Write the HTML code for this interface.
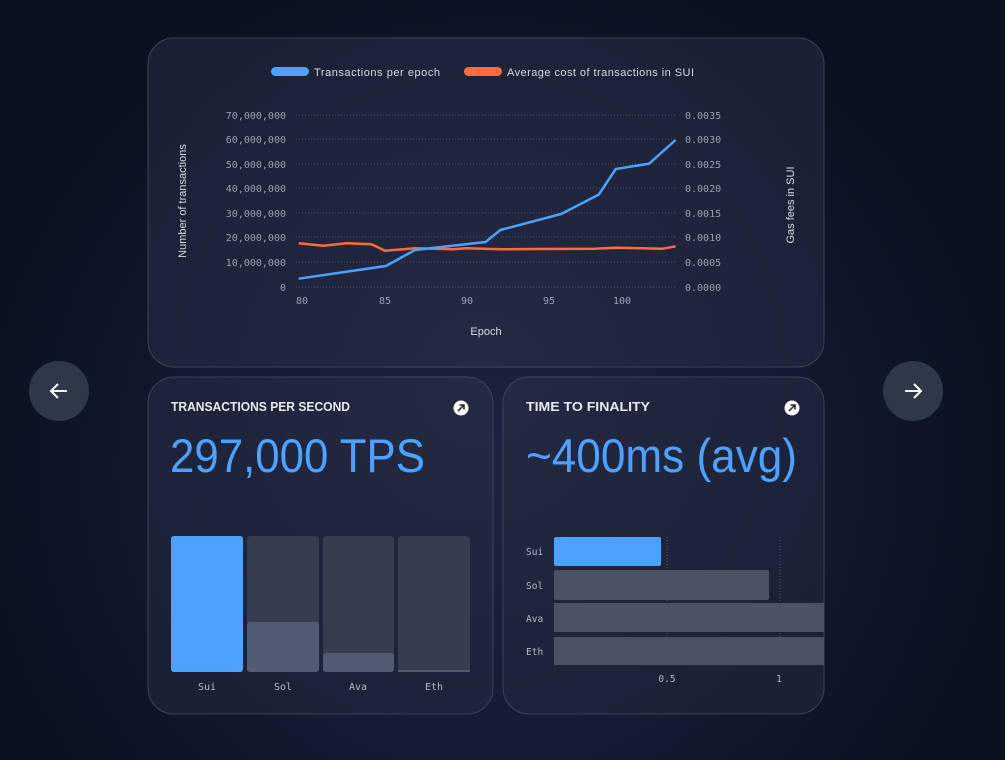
<!DOCTYPE html>
<html><head><meta charset="utf-8"><style>
html,body{margin:0;padding:0;width:1005px;height:760px;overflow:hidden;background:#0a1120;}
svg{display:block}
.m{font-family:"DejaVu Sans Mono","Liberation Mono",monospace;}
.s{font-family:"Liberation Sans",sans-serif;}
</style></head><body>
<svg width="1005" height="760" viewBox="0 0 1005 760" xmlns="http://www.w3.org/2000/svg">
<defs>
<radialGradient id="bg" cx="490" cy="470" r="520" gradientUnits="userSpaceOnUse">
<stop offset="0" stop-color="#1e2340"/><stop offset="0.55" stop-color="#141a30"/><stop offset="1" stop-color="#0a1120"/>
</radialGradient>
<radialGradient id="cd" cx="480" cy="380" r="400" gradientUnits="userSpaceOnUse">
<stop offset="0" stop-color="#252a44"/><stop offset="1" stop-color="#1b2135"/>
</radialGradient>
</defs>
<rect width="1005" height="760" fill="url(#bg)"/>
<rect x="148" y="38" width="676" height="329" rx="26" fill="url(#cd)" stroke="#3b4357" stroke-width="1"/>
<rect x="148" y="377" width="345" height="337" rx="26" fill="url(#cd)" stroke="#3b4357"/>
<rect x="503" y="377" width="321" height="337" rx="26" fill="url(#cd)" stroke="#3b4357"/>
<circle cx="59" cy="391" r="30" fill="#2e3848"/>
<path d="M67 391H51M58 384l-7 7 7 7" stroke="#fff" stroke-width="2" fill="none"/>
<circle cx="913" cy="391" r="30" fill="#2e3848"/>
<path d="M905 391h16M914 384l7 7-7 7" stroke="#fff" stroke-width="2" fill="none"/>
<rect x="271" y="67" width="38" height="9" rx="4.5" fill="#4da2ff"/>
<text x="314" y="76" class="s" font-size="11" fill="#d8dce6" textLength="126">Transactions per epoch</text>
<rect x="464" y="67" width="38" height="9" rx="4.5" fill="#ff6b3d"/>
<text x="507" y="76" class="s" font-size="11" fill="#d8dce6" textLength="187">Average cost of transactions in SUI</text>
<g stroke="#4a5268" stroke-width="1" stroke-dasharray="1 2">
<line x1="296" x2="676" y1="115" y2="115"/><line x1="296" x2="676" y1="139" y2="139"/>
<line x1="296" x2="676" y1="164" y2="164"/><line x1="296" x2="676" y1="188" y2="188"/>
<line x1="296" x2="676" y1="213" y2="213"/><line x1="296" x2="676" y1="237" y2="237"/>
<line x1="296" x2="676" y1="262" y2="262"/><line x1="296" x2="676" y1="287" y2="287"/>
</g>
<g class="m" font-size="10" fill="#9aa1b2" text-anchor="end">
<text x="286" y="119">70,000,000</text><text x="286" y="143">60,000,000</text>
<text x="286" y="168">50,000,000</text><text x="286" y="192">40,000,000</text>
<text x="286" y="217">30,000,000</text><text x="286" y="241">20,000,000</text>
<text x="286" y="266">10,000,000</text><text x="286" y="291">0</text>
</g>
<g class="m" font-size="10" fill="#9aa1b2">
<text x="685" y="119">0.0035</text><text x="685" y="143">0.0030</text>
<text x="685" y="168">0.0025</text><text x="685" y="192">0.0020</text>
<text x="685" y="217">0.0015</text><text x="685" y="241">0.0010</text>
<text x="685" y="266">0.0005</text><text x="685" y="291">0.0000</text>
</g>
<g class="m" font-size="10" fill="#9aa1b2" text-anchor="middle">
<text x="302" y="304">80</text><text x="385" y="304">85</text><text x="467" y="304">90</text>
<text x="549" y="304">95</text><text x="622" y="304">100</text>
</g>
<text x="486" y="335" class="s" font-size="11" fill="#d8dce6" text-anchor="middle">Epoch</text>
<text transform="translate(186,201) rotate(-90)" class="s" font-size="11" fill="#d8dce6" text-anchor="middle">Number of transactions</text>
<text transform="translate(794,205) rotate(-90)" class="s" font-size="11" fill="#d8dce6" text-anchor="middle">Gas fees in SUI</text>
<polyline fill="none" stroke="#ff6b3d" stroke-width="2.5" stroke-linejoin="round" points="298.7,243.3 323.1,245.7 346.6,243.3 371.4,244.3 385,250.7 415,248.3 453.4,249.3 466.2,248.3 500.4,249.3 534.6,249 594.4,248.7 615.8,247.7 662.8,248.7 675.6,246.3"/>
<polyline fill="none" stroke="#4da2ff" stroke-width="2.5" stroke-linejoin="round" points="298.7,278.7 385.9,266 415,250 485.5,242 500.4,230 561.1,214 598.7,194.7 615.8,169 649.1,163.7 675.6,140"/>
<text x="171" y="411" class="s" font-size="13" font-weight="bold" fill="#e8eaf0" textLength="179" lengthAdjust="spacingAndGlyphs">TRANSACTIONS PER SECOND</text>
<circle cx="461" cy="408" r="7.5" fill="#fff"/>
<path d="M458 411l6-6M459.5 405h4.5v4.5" stroke="#1b2135" stroke-width="1.5" fill="none"/>
<text x="170" y="472" class="s" font-size="47" fill="#4da2ff" textLength="255" lengthAdjust="spacingAndGlyphs">297,000 TPS</text>
<rect x="171" y="536" width="72" height="136" rx="3" fill="#4da2ff"/>
<rect x="247" y="536" width="72" height="136" rx="3" fill="#373d4f"/>
<rect x="247" y="622" width="72" height="50" rx="3" fill="#525b72"/>
<rect x="323" y="536" width="71" height="136" rx="3" fill="#373d4f"/>
<rect x="323" y="653" width="71" height="19" rx="3" fill="#525b72"/>
<rect x="398" y="536" width="72" height="136" rx="3" fill="#373d4f"/>
<rect x="398" y="670" width="72" height="2" fill="#525b72"/>
<g class="m" font-size="10" fill="#b4bac8" text-anchor="middle">
<text x="207" y="690">Sui</text><text x="283" y="690">Sol</text><text x="358" y="690">Ava</text><text x="434" y="690">Eth</text>
</g>
<text x="526" y="411" class="s" font-size="13" font-weight="bold" fill="#e8eaf0" textLength="124" lengthAdjust="spacingAndGlyphs">TIME TO FINALITY</text>
<circle cx="792" cy="408" r="7.5" fill="#fff"/>
<path d="M789 411l6-6M790.5 405h4.5v4.5" stroke="#1b2135" stroke-width="1.5" fill="none"/>
<text x="526" y="472" class="s" font-size="47" fill="#4da2ff" textLength="271" lengthAdjust="spacingAndGlyphs">~400ms (avg)</text>
<line x1="667" x2="667" y1="537" y2="666" stroke="#4a5268" stroke-dasharray="1 2"/>
<line x1="780" x2="780" y1="537" y2="666" stroke="#4a5268" stroke-dasharray="1 2"/>
<rect x="554" y="537" width="107" height="29" rx="2" fill="#4da2ff"/>
<rect x="554" y="570" width="215" height="30" rx="2" fill="#4b5263"/>
<rect x="554" y="603" width="270" height="29" fill="#4b5263"/>
<rect x="554" y="637" width="270" height="28" fill="#4b5263"/>
<g class="m" font-size="9.5" fill="#b4bac8">
<text x="526" y="555">Sui</text><text x="526" y="589">Sol</text><text x="526" y="622">Ava</text><text x="526" y="655">Eth</text>
</g>
<g class="m" font-size="9.5" fill="#b4bac8" text-anchor="middle">
<text x="667" y="682">0.5</text><text x="779" y="682">1</text>
</g>
</svg>
</body></html>
